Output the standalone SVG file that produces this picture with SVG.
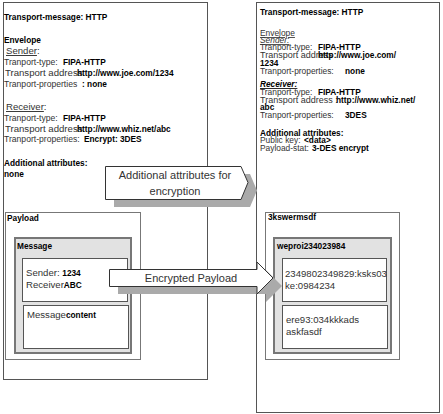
<svg xmlns="http://www.w3.org/2000/svg" width="443" height="414" viewBox="0 0 443 414">
<style>
text{font-family:"Liberation Sans",Arial,sans-serif;fill:#333}
.b{font-weight:bold;fill:#000;font-size:8.3px}
.r{font-size:8.6px}
.m{font-size:9.6px}
.rr{font-size:8.4px}
.rm{font-size:9px}
.u{text-decoration:underline}
.big{font-size:11px;fill:#333;text-anchor:middle}
.outer{fill:#fff;stroke:#555;stroke-width:1}
.pay{fill:#fff;stroke:#777;stroke-width:1}
.msg{fill:#e2e2e2;stroke:#777;stroke-width:2}
.inner{fill:#fff;stroke:#555;stroke-width:1}
.arrow{fill:#fff;stroke:#333;stroke-width:1}
.shadow{fill:#aaa}
</style>
<g id="left-message">
<rect class="outer" x="3.5" y="2.5" width="204" height="377"/>
<text x="4" y="20" class="b">Transport-message: HTTP</text>
<text x="4" y="43" class="b">Envelope</text>
<text x="6" y="54" class="m"><tspan class="u">Sender</tspan>:</text>
<text x="4" y="65" class="r">Tranport-type:</text><text x="63" y="65" class="b">FIPA-HTTP</text>
<text x="5" y="76" class="m">Transport address:</text><text x="77" y="76" class="b">http://www.joe.com/1234</text>
<text x="4" y="87" class="r">Tranport-properties</text><text x="82" y="87" class="b">: none</text>
<text x="6" y="110" class="m"><tspan class="u">Receiver</tspan>:</text>
<text x="4" y="121" class="r">Tranport-type:</text><text x="63" y="121" class="b">FIPA-HTTP</text>
<text x="5" y="132" class="m">Transport address:</text><text x="77" y="132" class="b">http://www.whiz.net/abc</text>
<text x="4" y="142" class="r">Tranport-properties:</text><text x="84" y="142" class="b">Encrypt: 3DES</text>
<text x="4" y="166" class="b">Additional attributes:</text>
<text x="4" y="177" class="b">none</text>
</g>
<g id="left-payload">
<rect class="pay" x="5.5" y="212.5" width="135" height="147"/>
<text x="7" y="221" class="b">Payload</text>
</g>
<g id="left-msg">
<rect class="msg" x="15" y="238" width="116" height="115"/>
<text x="17" y="249" class="b">Message</text>
</g>
<g id="left-header">
<rect class="inner" x="22.5" y="258.5" width="105" height="43"/>
<text x="26" y="276" class="m">Sender: <tspan class="b">1234</tspan></text>
<text x="26" y="288" class="m">Receiver<tspan class="b">ABC</tspan></text>
</g>
<g id="left-content">
<rect class="inner" x="23.5" y="305.5" width="105" height="43"/>
<text x="27" y="318" class="m">Message<tspan class="b">content</tspan></text>
</g>
<g id="right-message">
<rect class="outer" x="256.5" y="2.5" width="183" height="410"/>
<text x="260" y="15" class="b">Transport-message: HTTP</text>
<text x="260" y="36" class="rr u">Envelope</text>
<text x="260" y="43" class="rr u" font-style="italic">Sender:</text>
<text x="260" y="50" class="rr">Tranport-type:</text><text x="318" y="50" class="b">FIPA-HTTP</text>
<text x="260" y="58" class="rm">Transport address</text><text x="318" y="58" class="b">http://www.joe.com/</text>
<text x="260" y="66" class="b">1234</text>
<text x="260" y="74" class="rr">Tranport-properties:</text><text x="345" y="74" class="b">none</text>
<text x="260" y="87" class="b u" font-style="italic">Receiver:</text>
<text x="260" y="95" class="rr">Tranport-type:</text><text x="318" y="95" class="b">FIPA-HTTP</text>
<text x="260" y="103" class="rm">Transport address :</text><text x="336" y="103" class="b">http://www.whiz.net/</text>
<text x="260" y="110" class="b">abc</text>
<text x="260" y="118" class="rr">Tranport-properties:</text><text x="345" y="118" class="b">3DES</text>
<text x="260" y="136" class="b">Additional attributes:</text>
<text x="260" y="143" class="rr">Public key:</text><text x="304" y="143" class="b">&lt;data&gt;</text>
<text x="260" y="151" class="rr">Payload-stat:</text><text x="312" y="151" class="b">3-DES encrypt</text>
</g>
<g id="right-payload">
<rect class="pay" x="265.5" y="212.5" width="134" height="147"/>
<text x="268" y="220" class="b">3kswermsdf</text>
</g>
<g id="right-msg">
<rect class="msg" x="274" y="238" width="117" height="115"/>
<text x="277" y="249" class="b">weproi234023984</text>
</g>
<g id="right-header">
<rect class="inner" x="282.5" y="258.5" width="104" height="43"/>
<text x="285" y="277" class="m">2349802349829:ksks03</text>
<text x="285" y="289" class="m">ke:0984234</text>
</g>
<g id="right-content">
<rect class="inner" x="282.5" y="305.5" width="105" height="43"/>
<text x="286" y="323" class="m">ere93:034kkkads</text>
<text x="286" y="335" class="m">askfasdf</text>
</g>
<g id="connectors">
<polygon class="shadow" points="114,174 250,174 257,190.5 250,207 114,207"/>
<polygon class="arrow" points="105.5,166.5 241,166.5 248,182.5 241,199.5 105.5,199.5"/>
<text x="175" y="179" class="big">Additional attributes for</text>
<text x="175" y="195" class="big">encryption</text>
<polygon class="shadow" points="118,277 266,277 266,270 282,286 266,302 266,294 118,294"/>
<polygon class="arrow" points="109.5,269.5 257,269.5 257,262 273,278 257,294 257,286.5 109.5,286.5"/>
<text x="191" y="282" class="big">Encrypted Payload</text>
</g>
</svg>
